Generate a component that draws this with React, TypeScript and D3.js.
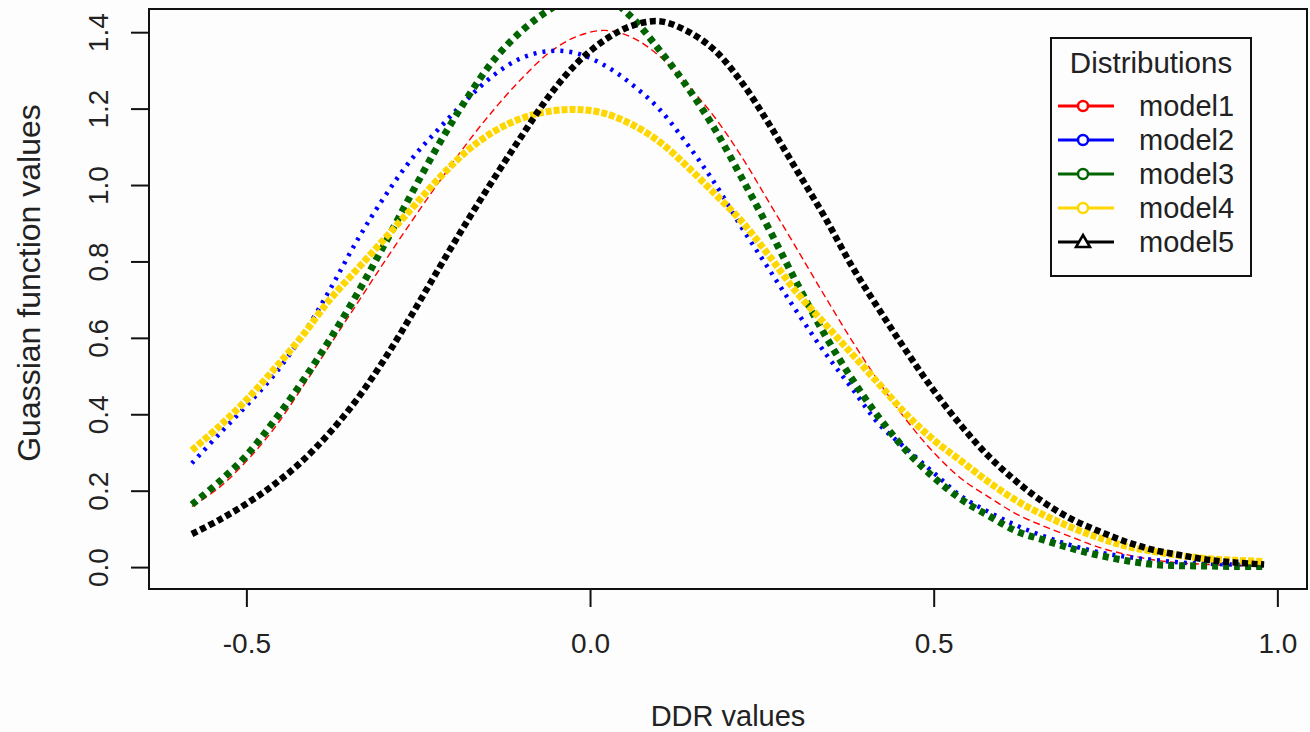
import React, { useEffect, useRef } from "react";
import * as d3 from "d3";

// DDR grid (x)
const ddr = [
  -0.58, -0.54, -0.5, -0.46, -0.42, -0.38, -0.34, -0.3, -0.26, -0.22,
  -0.18, -0.14, -0.1, -0.06, -0.02, 0.02, 0.06, 0.1, 0.14, 0.18,
  0.22, 0.26, 0.3, 0.34, 0.38, 0.42, 0.46, 0.5, 0.54, 0.58,
  0.62, 0.66, 0.7, 0.74, 0.78, 0.82, 0.86, 0.9, 0.94, 0.98,
];

const model1 = [
  0.16, 0.21, 0.28, 0.365, 0.47, 0.58, 0.69, 0.8, 0.907, 1.01,
  1.11, 1.2, 1.28, 1.348, 1.39, 1.406, 1.388, 1.339, 1.265, 1.18,
  1.075, 0.955, 0.835, 0.713, 0.595, 0.485, 0.385, 0.3, 0.232, 0.184,
  0.14, 0.108, 0.08, 0.053, 0.034, 0.02, 0.012, 0.008, 0.005, 0.004,
];

const model2 = [
  0.273, 0.35, 0.425, 0.505, 0.605, 0.725, 0.855, 0.97, 1.07, 1.15,
  1.225, 1.29, 1.334, 1.352, 1.346, 1.315, 1.265, 1.2, 1.11, 1.008,
  0.89, 0.78, 0.67, 0.565, 0.47, 0.375, 0.31, 0.247, 0.186, 0.145,
  0.11, 0.082, 0.058, 0.04, 0.028, 0.02, 0.013, 0.01, 0.008, 0.006,
];

const model3 = [
  0.165, 0.225, 0.295, 0.385, 0.485, 0.595, 0.715, 0.845, 0.98, 1.11,
  1.228, 1.33, 1.405, 1.46, 1.5, 1.495, 1.44, 1.355, 1.26, 1.15,
  1.02, 0.885, 0.745, 0.612, 0.495, 0.392, 0.305, 0.235, 0.178, 0.135,
  0.095, 0.072, 0.05, 0.032, 0.018, 0.008, 0.005, 0.004, 0.003, 0.003,
];

const model4 = [
  0.307, 0.37, 0.44, 0.52, 0.605, 0.7, 0.78, 0.86, 0.94, 1.02,
  1.09, 1.142, 1.176, 1.194, 1.199, 1.189, 1.16, 1.115, 1.051, 0.98,
  0.906, 0.816, 0.72, 0.64, 0.56, 0.48, 0.4, 0.333, 0.278, 0.223,
  0.175, 0.137, 0.105, 0.078, 0.056, 0.042, 0.031, 0.023, 0.019, 0.016,
];

const model5 = [
  0.088, 0.125, 0.168, 0.218, 0.278, 0.352, 0.44, 0.545, 0.662, 0.785,
  0.905, 1.02, 1.13, 1.235, 1.32, 1.38, 1.418, 1.43, 1.405, 1.355,
  1.27, 1.16, 1.04, 0.92, 0.79, 0.675, 0.565, 0.462, 0.37, 0.29,
  0.225, 0.17, 0.127, 0.095, 0.067, 0.046, 0.032, 0.02, 0.013, 0.008,
];

const xTicks = [-0.5, 0.0, 0.5, 1.0];
const yTicks = [0.0, 0.2, 0.4, 0.6, 0.8, 1.0, 1.2, 1.4];
const legendLabels = ["model1", "model2", "model3", "model4", "model5"];

// look of each series (R: lty / pch emulated with dash trains)
const seriesLook = [
  { color: "#ff0000", width: 1.4, dash: "7 4" },
  { color: "#0000ff", width: 4.5, dash: "3 6" },
  { color: "#006400", width: 7, dash: "6 5" },
  { color: "#ffd700", width: 7, dash: "6 2" },
  { color: "#000000", width: 6.5, dash: "6 3.5" },
];

const App = () => {
  const ref = useRef<SVGSVGElement | null>(null);

  useEffect(() => {
    draw();
  }, []);

  const draw = () => {
    const W = 1310, H = 732;
    const left = 149, right = 1307, top = 9, bottom = 589;
    const font = "'Liberation Sans', Arial, sans-serif";

    const svg = d3.select(ref.current);
    svg.selectAll("*").remove();

    svg.append("rect").attr("width", W).attr("height", H).attr("fill", "#fdfdfd");

    const x = d3.scaleLinear().domain([-0.6424, 1.0424]).range([left, right]);
    const y = d3.scaleLinear().domain([-0.056, 1.462]).range([bottom, top]);

    svg.append("defs").append("clipPath").attr("id", "plotclip")
      .append("rect")
      .attr("x", left).attr("y", top)
      .attr("width", right - left).attr("height", bottom - top);

    const series = [model1, model2, model3, model4, model5];
    const line = d3.line<number>()
      .x((d, i) => x(ddr[i]))
      .y(d => y(d))
      .curve(d3.curveCatmullRom);

    const g = svg.append("g").attr("clip-path", "url(#plotclip)");
    // draw in R order
    series.forEach((vals, i) => {
      const s = seriesLook[i];
      g.append("path")
        .datum(vals)
        .attr("d", line)
        .attr("fill", "none")
        .attr("stroke", s.color)
        .attr("stroke-width", s.width)
        .attr("stroke-dasharray", s.dash)
        .attr("stroke-linecap", "butt");
    });

    // box
    svg.append("rect")
      .attr("x", left).attr("y", top)
      .attr("width", right - left).attr("height", bottom - top)
      .attr("fill", "none").attr("stroke", "#111").attr("stroke-width", 2);

    // x axis
    const xa = svg.append("g");
    xa.selectAll("line").data(xTicks).join("line")
      .attr("x1", d => x(d)).attr("x2", d => x(d))
      .attr("y1", bottom).attr("y2", bottom + 18)
      .attr("stroke", "#111").attr("stroke-width", 2);
    xa.selectAll("text").data(xTicks).join("text")
      .attr("x", d => x(d)).attr("y", 653)
      .attr("text-anchor", "middle")
      .attr("font-family", font).attr("font-size", 28).attr("fill", "#222")
      .text(d => d3.format(".1f")(d).replace("−", "-"));

    // y axis
    const ya = svg.append("g");
    ya.selectAll("line").data(yTicks).join("line")
      .attr("x1", left).attr("x2", left - 18)
      .attr("y1", d => y(d)).attr("y2", d => y(d))
      .attr("stroke", "#111").attr("stroke-width", 2);
    ya.selectAll("text").data(yTicks).join("text")
      .attr("transform", d => `translate(108,${y(d)}) rotate(-90)`)
      .attr("text-anchor", "middle")
      .attr("font-family", font).attr("font-size", 28).attr("fill", "#222")
      .text(d => d3.format(".1f")(d));

    // axis titles
    svg.append("text")
      .attr("x", (left + right) / 2).attr("y", 726)
      .attr("text-anchor", "middle")
      .attr("font-family", font).attr("font-size", 29).attr("fill", "#222")
      .text("DDR values");
    svg.append("text")
      .attr("transform", `translate(40,${(top + bottom) / 2 - 16}) rotate(-90)`)
      .attr("text-anchor", "middle")
      .attr("font-family", font).attr("font-size", 32).attr("fill", "#222")
      .text("Guassian function values");

    // legend
    const lg = svg.append("g");
    lg.append("rect")
      .attr("x", 1051).attr("y", 38).attr("width", 200).attr("height", 238)
      .attr("fill", "#fdfdfd").attr("stroke", "#111").attr("stroke-width", 2);
    lg.append("text")
      .attr("x", 1151).attr("y", 73)
      .attr("text-anchor", "middle")
      .attr("font-family", font).attr("font-size", 29.5).attr("fill", "#222")
      .text("Distributions");
    legendLabels.forEach((lab, i) => {
      const cy = 106 + i * 34;
      const col = seriesLook[i].color;
      lg.append("line")
        .attr("x1", 1058).attr("x2", 1114).attr("y1", cy).attr("y2", cy)
        .attr("stroke", col).attr("stroke-width", 3);
      if (i < 4) {
        lg.append("circle").attr("cx", 1083).attr("cy", cy).attr("r", 5)
          .attr("fill", "#fdfdfd").attr("stroke", col).attr("stroke-width", 2.5);
      } else {
        lg.append("path")
          .attr("d", `M1083,${cy - 7} L1090,${cy + 5} L1076,${cy + 5} Z`)
          .attr("fill", "#fdfdfd").attr("stroke", col).attr("stroke-width", 2.5);
      }
      lg.append("text")
        .attr("x", 1139).attr("y", cy + 10)
        .attr("font-family", font).attr("font-size", 29).attr("fill", "#222")
        .text(lab);
    });
  };

  return (
    <svg
      ref={ref}
      width={1310}
      height={732}
      style={{ position: "absolute", left: 0, top: 0 }}
    />
  );
};

export default App;
